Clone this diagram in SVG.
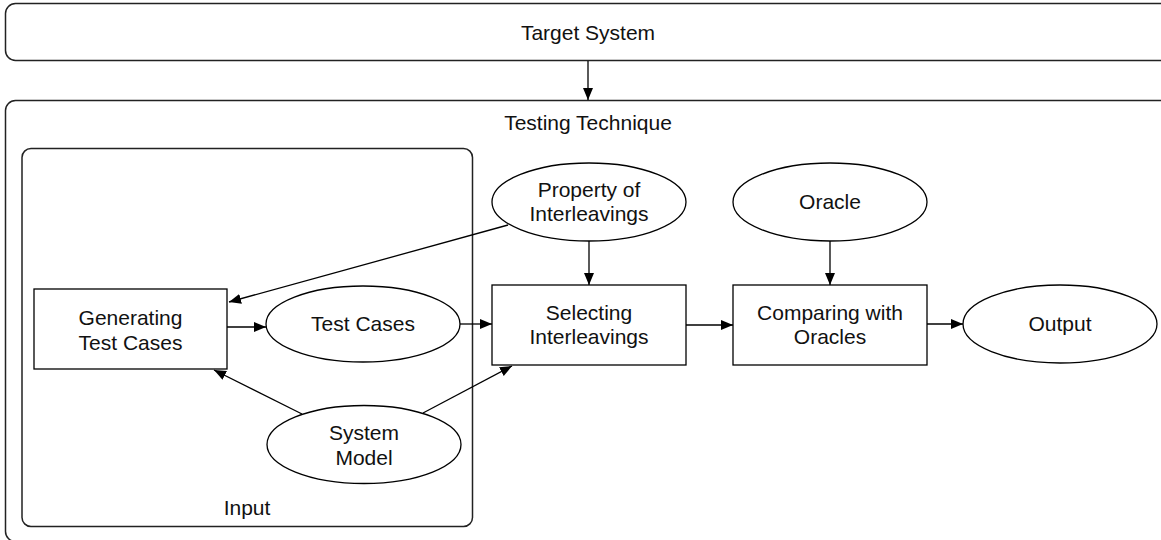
<svg xmlns="http://www.w3.org/2000/svg" width="1161" height="540" viewBox="0 0 1161 540">
<defs>
<marker id="ah" markerWidth="12" markerHeight="10" refX="12" refY="5" orient="auto" markerUnits="userSpaceOnUse">
<path d="M0,0 L12,5 L0,10 Z" fill="#000"/>
</marker>
<style>
.box{fill:#fff;stroke:#000;stroke-width:1.3}
.cont{fill:none;stroke:#222;stroke-width:1.5}
.t{font-family:"Liberation Sans",Arial,sans-serif;font-size:21px;fill:#111;text-anchor:middle}
.c{stroke:#000;stroke-width:1.3;fill:none;marker-end:url(#ah)}
</style>
</defs>
<rect width="1161" height="540" fill="#fff"/>
<g id="target-system">
<rect class="cont" x="5.5" y="3.5" width="1170" height="57" rx="10"/>
<text class="t" x="588" y="40">Target System</text>
</g>
<g id="testing-technique">
<rect class="cont" x="5.5" y="100.5" width="1170" height="441" rx="10"/>
<text class="t" x="588" y="130">Testing Technique</text>
</g>
<g id="input">
<rect class="cont" x="22" y="148.5" width="450.5" height="378" rx="9"/>
<text class="t" x="247" y="515">Input</text>
</g>
<g id="generating">
<rect class="box" x="34" y="289" width="193" height="80"/>
<text class="t" x="130.5" y="325">Generating</text>
<text class="t" x="130.5" y="350">Test Cases</text>
</g>
<g id="test-cases">
<ellipse class="box" cx="363" cy="324" rx="97" ry="38"/>
<text class="t" x="363" y="331">Test Cases</text>
</g>
<g id="system-model">
<ellipse class="box" cx="364" cy="444.5" rx="97" ry="39"/>
<text class="t" x="364" y="440">System</text>
<text class="t" x="364" y="465">Model</text>
</g>
<g id="property">
<ellipse class="box" cx="589" cy="202" rx="97" ry="39"/>
<text class="t" x="589" y="197">Property of</text>
<text class="t" x="589" y="221">Interleavings</text>
</g>
<g id="selecting">
<rect class="box" x="492" y="285" width="194" height="80"/>
<text class="t" x="589" y="320">Selecting</text>
<text class="t" x="589" y="344">Interleavings</text>
</g>
<g id="oracle">
<ellipse class="box" cx="830" cy="202" rx="97" ry="39"/>
<text class="t" x="830" y="209">Oracle</text>
</g>
<g id="comparing">
<rect class="box" x="733" y="285" width="194" height="80"/>
<text class="t" x="830" y="320">Comparing with</text>
<text class="t" x="830" y="344">Oracles</text>
</g>
<g id="output">
<ellipse class="box" cx="1060" cy="324" rx="97" ry="39"/>
<text class="t" x="1060" y="331">Output</text>
</g>
<g id="connectors">
<line class="c" x1="588" y1="61" x2="588" y2="100"/>
<line class="c" x1="227" y1="327" x2="266" y2="327"/>
<line class="c" x1="460" y1="324" x2="492" y2="324"/>
<line class="c" x1="508" y1="225" x2="229" y2="302"/>
<line class="c" x1="589" y1="241" x2="589" y2="285"/>
<line class="c" x1="302" y1="414" x2="214" y2="370"/>
<line class="c" x1="423" y1="413" x2="512" y2="366"/>
<line class="c" x1="686" y1="325" x2="733" y2="325"/>
<line class="c" x1="830" y1="241" x2="830" y2="285"/>
<line class="c" x1="927" y1="324" x2="963" y2="324"/>
</g>
</svg>
